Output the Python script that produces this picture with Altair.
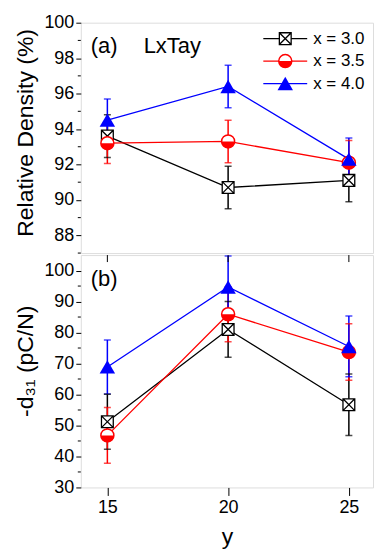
import altair as alt
import pandas as pd

# ---- data ----
y_vals = [15, 20, 25]
series = ["x = 3.0", "x = 3.5", "x = 4.0"]
colors = ["black", "red", "blue"]

density_30 = [93.6, 90.7, 91.1]
density_30_err = [1.2, 1.2, 1.2]
density_35 = [93.2, 93.3, 92.1]
density_35_err = [1.15, 1.2, 1.25]
density_40 = [94.5, 96.4, 92.3]
density_40_err = [1.2, 1.2, 1.2]

d31_30 = [51.2, 81.0, 56.7]
d31_30_err = [8.9, 9.0, 9.9]
d31_35 = [46.8, 85.9, 73.7]
d31_35_err = [9.0, 8.9, 9.1]
d31_40 = [68.9, 94.7, 75.5]
d31_40_err = [8.7, 10.0, 9.8]

top_major = [88, 90, 92, 94, 96, 98, 100]
top_minor = [87, 89, 91, 93, 95, 97, 99]
bot_major = [30, 40, 50, 60, 70, 80, 90, 100]
bot_minor = [35, 45, 55, 65, 75, 85, 95]
x_ticks = [15, 20, 25]

FONT = "Liberation Sans"

rows = []
dens = [(density_30, density_30_err), (density_35, density_35_err), (density_40, density_40_err)]
d31s = [(d31_30, d31_30_err), (d31_35, d31_35_err), (d31_40, d31_40_err)]
for s, (dv, de), (pv, pe) in zip(series, dens, d31s):
    for i, yv in enumerate(y_vals):
        rows.append({"y": yv, "series": s,
                     "dens": dv[i], "dens_lo": dv[i] - de[i], "dens_hi": dv[i] + de[i],
                     "d31": pv[i], "d31_lo": pv[i] - pe[i], "d31_hi": pv[i] + pe[i]})
df = pd.DataFrame(rows)

W = 293
H_TOP = 231
H_BOT = 233

color_scale = alt.Scale(domain=series, range=colors)
xscale = alt.Scale(domain=[13.9, 26], nice=False, zero=False)

SQX = "M-1,-1L1,-1L1,1L-1,1Z M-1,-1L1,1 M1,-1L-1,1"
HALF = "M-1,0A1,1 0 0,0 1,0Z"


def markers(base, xenc, yenc, cond=True):
    """marker layers; base is a chart with data"""
    layers = []
    f = (lambda s: base.transform_filter(alt.datum.series == s)) if cond else (lambda s: base)
    layers.append(f(series[0]).mark_point(shape=SQX, filled=False, fill="white", fillOpacity=1,
                                          stroke="black", strokeWidth=1.3, size=140, opacity=1)
                  .encode(x=xenc, y=yenc))
    layers.append(f(series[1]).mark_point(shape="circle", filled=False, fill="white", fillOpacity=1,
                                          stroke="red", strokeWidth=1.5, size=170, opacity=1)
                  .encode(x=xenc, y=yenc))
    layers.append(f(series[1]).mark_point(shape=HALF, filled=True, color="red", size=170, opacity=1)
                  .encode(x=xenc, y=yenc))
    layers.append(f(series[2]).mark_point(shape="triangle-up", filled=True, color="blue", size=240,
                                          opacity=1)
                  .encode(x=xenc, y=yenc))
    return layers


def panel(field, lo, hi, ydomain, major, minor, title, bottom, title_y):
    yscale = alt.Scale(domain=ydomain, nice=False, zero=False)
    if bottom:
        xaxis = alt.Axis(values=x_ticks, title="y", labelFontSize=18, titleFontSize=23,
                         tickSize=8, labelPadding=3, titlePadding=9, grid=False, domain=False,
                         tickColor="black", labelColor="black", titleColor="black",
                         titleFontWeight="normal", labelFont=FONT, titleFont=FONT,
                         labelOverlap=False, labelFlush=False)
    else:
        xaxis = None
    yaxis = alt.Axis(values=major, title=title, labelFontSize=18, titleFontSize=23, tickSize=5,
                     labelPadding=2, titlePadding=6, grid=False, domain=False, tickColor="black",
                     labelColor="black", titleColor="black", titleFontWeight="normal",
                     labelFont=FONT, titleFont=FONT, labelOverlap=False, labelFlush=False,
                     titleY=title_y)

    def X(f):
        return alt.X(f, type="quantitative", scale=xscale, axis=xaxis)

    def Y(f):
        return alt.Y(f, type="quantitative", scale=yscale, axis=yaxis)

    col = alt.Color("series:N", scale=color_scale, legend=None)
    base = alt.Chart(df)
    lines = base.mark_line(strokeWidth=1.3, clip=True).encode(
        x=X("y"), y=Y(field), color=col, detail="series:N")
    err = base.mark_rule(strokeWidth=1.5, clip=True).encode(
        x=X("y"), y=Y(lo), y2=alt.Y2(hi), color=col)
    cap_lo = base.mark_tick(orient="horizontal", size=7, thickness=1.5, clip=True).encode(
        x=X("y"), y=Y(lo), color=col)
    cap_hi = base.mark_tick(orient="horizontal", size=7, thickness=1.5, clip=True).encode(
        x=X("y"), y=Y(hi), color=col)
    pts = markers(base, X("y"), Y(field))

    minor_df = pd.DataFrame({"v": minor})
    minor_ticks = alt.Chart(minor_df).mark_rule(color="black", strokeWidth=1).encode(
        y=Y("v"), x=alt.value(-3), x2=alt.value(0))

    layers = [lines, err, cap_lo, cap_hi] + pts + [minor_ticks]
    if bottom:
        tdf = pd.DataFrame({"t": x_ticks})
        top_ticks = alt.Chart(tdf).mark_rule(color="black", strokeWidth=1).encode(
            x=X("t"), y=alt.value(0), y2=alt.value(7))
        layers.append(top_ticks)
    return layers


one = pd.DataFrame({"a": [0]})

top_layers = panel("dens", "dens_lo", "dens_hi", [87, 100], top_major, top_minor,
                   "Relative Density (%)", False, 110)
top_layers.append(alt.Chart(one).mark_text(text="(a)", font=FONT, fontSize=22, align="left",
                                           baseline="middle", color="black")
                  .encode(x=alt.value(10), y=alt.value(23)))
top_layers.append(alt.Chart(one).mark_text(text="LxTay", font=FONT, fontSize=22, align="left",
                                           baseline="middle", color="black")
                  .encode(x=alt.value(63), y=alt.value(23)))
# legend
for i, (s, c) in enumerate(zip(series, colors)):
    yy = 16 + i * 22.5
    top_layers.append(alt.Chart(one).mark_rule(color=c, strokeWidth=1.3)
                      .encode(x=alt.value(183), x2=alt.value(227), y=alt.value(yy)))
    top_layers.append(alt.Chart(one).mark_text(text=s, font=FONT, fontSize=17, align="left",
                                               baseline="middle", color="black")
                      .encode(x=alt.value(233), y=alt.value(yy)))
    sub = alt.Chart(pd.DataFrame({"series": [s]}))
    mk = markers(sub, alt.value(205), alt.value(yy), cond=False)
    if i == 0:
        top_layers.append(mk[0])
    elif i == 1:
        top_layers += [mk[1], mk[2]]
    else:
        top_layers.append(mk[3])

top = alt.layer(*top_layers).properties(width=W, height=H_TOP)

bot_layers = panel("d31", "d31_lo", "d31_hi", [30, 105], bot_major, bot_minor,
                   "-d\u2083\u2081 (pC/N)", True, 106)
bot_layers.append(alt.Chart(one).mark_text(text="(b)", font=FONT, fontSize=22, align="left",
                                           baseline="middle", color="black")
                  .encode(x=alt.value(10), y=alt.value(24)))
bot = alt.layer(*bot_layers).properties(width=W, height=H_BOT)

chart = alt.vconcat(top, bot, spacing=0).properties(
    padding={"left": 6, "top": 4, "right": 5, "bottom": 5}
).configure_view(stroke="black", strokeWidth=1.5).configure(background="white")

chart.save("out.html", embed_options={"renderer": "svg", "actions": False})
